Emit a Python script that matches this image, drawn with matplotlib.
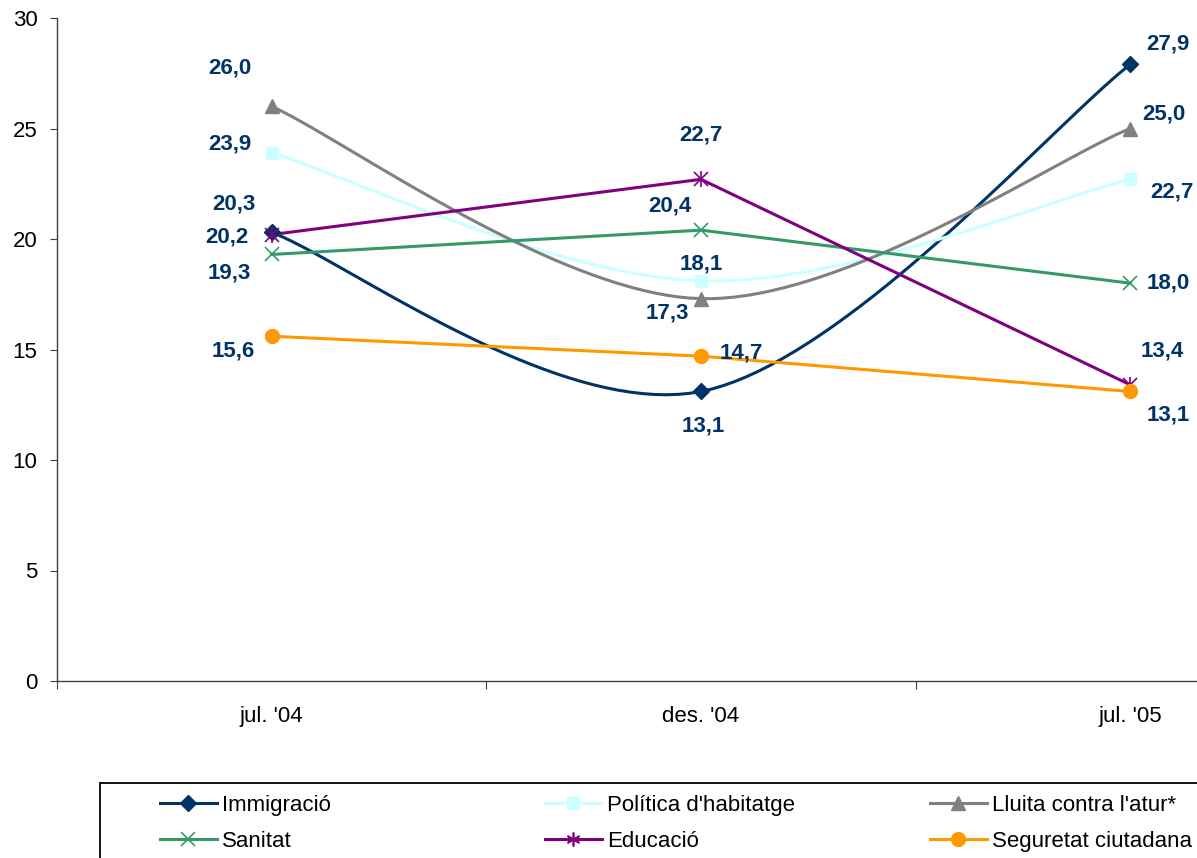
import numpy as np
import matplotlib
matplotlib.use('Agg')
import matplotlib.pyplot as plt
from matplotlib.patches import Rectangle

# Data
periods = ["jul. '04", "des. '04", "jul. '05"]
immigracio = [20.3, 13.1, 27.9]
politica = [23.9, 18.1, 22.7]
lluita = [26.0, 17.3, 25.0]
sanitat = [19.3, 20.4, 18.0]
educacio = [20.2, 22.7, 13.4]
seguretat = [15.6, 14.7, 13.1]

SERIES = [
    # name, values, color, marker, marker size, smooth, label offsets (px)
    ("Immigració", immigracio, "#003366", "D", 8, True, [(-38, 28), (2, -35), (38, 20)]),
    ("Política d'habitatge", politica, "#CCFFFF", "s", 9, True, [(-42, 9), (0, 17), (42, -13)]),
    ("Lluita contra l'atur*", lluita, "#808080", "^", 10, True, [(-42, 38), (-34, -14), (34, 15)]),
    ("Sanitat", sanitat, "#339966", "x", 10, False, [(-42, -19), (-31, 24), (38, 0)]),
    ("Educació", educacio, "#800080", "x", 10, False, [(-45, -2), (0, 44), (32, 34)]),
    ("Seguretat ciutadana", seguretat, "#FF9900", "o", 10, False, [(-38, -15), (40, 3), (38, -24)]),
]


def smooth(xs, ys, n=40):
    # Excel-style smoothed line (Catmull-Rom as cubic Bezier)
    p = np.column_stack([xs, ys]).astype(float)
    p = np.vstack([p[0], p, p[-1]])
    out = []
    t = np.linspace(0, 1, n)[:, None]
    for i in range(1, len(p) - 2):
        b0 = p[i]
        b3 = p[i + 1]
        b1 = b0 + (p[i + 1] - p[i - 1]) / 6
        b2 = b3 - (p[i + 2] - p[i]) / 6
        seg = ((1 - t) ** 3) * b0 + 3 * ((1 - t) ** 2) * t * b1 + 3 * (1 - t) * t ** 2 * b2 + t ** 3 * b3
        out.append(seg)
    out = np.vstack(out)
    return out[:, 0], out[:, 1]


plt.rcParams['font.family'] = ['Liberation Sans', 'DejaVu Sans']
FS = 16
LW = 2.2

fig = plt.figure(figsize=(11.97, 8.58), dpi=100)
W, H = 1197, 858
ax = fig.add_axes([57 / W, (H - 681) / H, (1345 - 57) / W, (681 - 18) / H])

x = np.arange(len(periods))
handles = {}
for name, vals, color, marker, ms, sm, offs in SERIES:
    if sm:
        sx, sy = smooth(x, vals)
    else:
        sx, sy = x, vals
    ax.plot(sx, sy, color=color, lw=LW, zorder=3)
    if name == "Educació":
        ax.plot(x, vals, ls='none', marker='x', ms=ms, mew=1.2, color=color, zorder=4)
        ax.plot(x, vals, ls='none', marker='|', ms=ms + 1, mew=1.2, color=color, zorder=4)
    elif marker == "x":
        ax.plot(x, vals, ls='none', marker='x', ms=ms, mew=1.2, color=color, zorder=4)
    else:
        ax.plot(x, vals, ls='none', marker=marker, ms=ms, color=color, zorder=4)
    for xi, v, (dx, dy) in zip(x, vals, offs):
        ax.annotate(f"{v:.1f}".replace('.', ','), (xi, v), xytext=(dx * 0.72, dy * 0.72),
                    textcoords='offset points', ha='center', va='center',
                    fontsize=FS, fontweight='bold', color='#003366', zorder=5)
    # legend handle
    if name == "Educació":
        h = ax.plot([], [], color=color, lw=LW, marker=(6, 2, 0), ms=ms, mew=1.2)[0]
    elif marker == "x":
        h = ax.plot([], [], color=color, lw=LW, marker='x', ms=ms, mew=1.2)[0]
    else:
        h = ax.plot([], [], color=color, lw=LW, marker=marker, ms=ms)[0]
    handles[name] = h

ax.set_xlim(-0.5, 2.5)
ax.set_ylim(0, 30)
ax.set_yticks(np.arange(0, 31, 5))
ax.set_xticks([-0.5, 0.5, 1.5, 2.5])
ax.set_xticklabels([])
ax.set_xticks(x, minor=True)
ax.set_xticklabels(periods, minor=True)
ax.tick_params(axis='x', which='minor', length=0, pad=18, labelsize=FS)
ax.tick_params(axis='x', which='major', length=6, direction='out', color='#404040')
ax.tick_params(axis='y', length=5, direction='out', labelsize=FS, pad=9, color='#404040')
for s in ['top', 'right']:
    ax.spines[s].set_visible(False)
for s in ['left', 'bottom']:
    ax.spines[s].set_color('#404040')
    ax.spines[s].set_linewidth(1.0)

# Legend box
fig.patches.append(Rectangle((100 / W, -0.01), 1.0, (H - 783) / H + 0.01,
                             transform=fig.transFigure, fill=False,
                             edgecolor='black', lw=1.3))
names = [s[0] for s in SERIES]
cols = [(names[0], names[3]), (names[1], names[4]), (names[2], names[5])]
for i, (a, b) in enumerate(cols):
    fig.legend([handles[a], handles[b]], [a, b], loc='upper left',
               bbox_to_anchor=((144 + 385 * i) / W, (H - 779) / H),
               frameon=False, fontsize=FS, handlelength=2.6, handletextpad=0.2,
               labelspacing=0.7, borderpad=0.2)

fig.savefig('out.png', dpi=100)
